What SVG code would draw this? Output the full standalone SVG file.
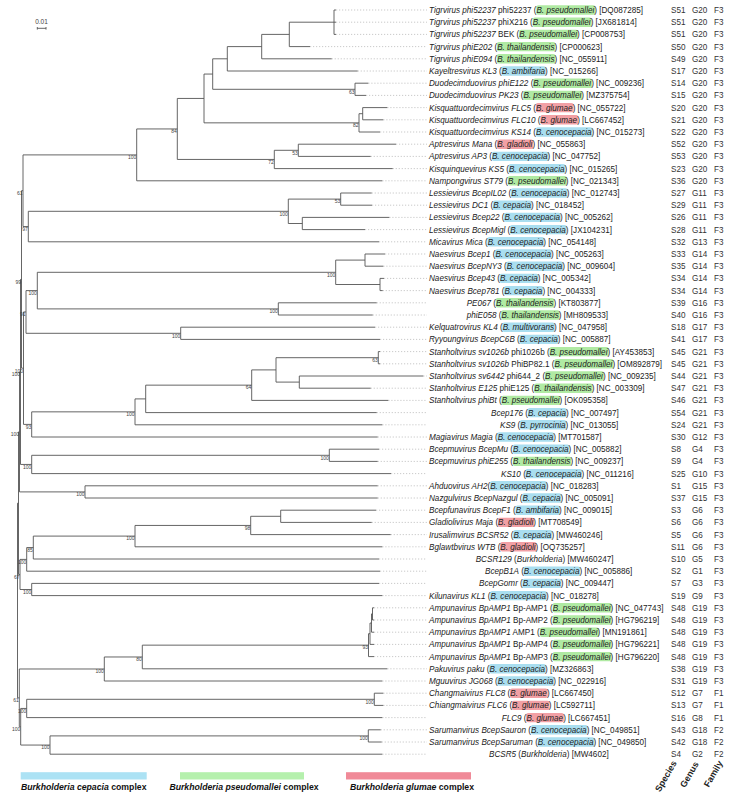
<svg xmlns="http://www.w3.org/2000/svg" width="732" height="799" viewBox="0 0 732 799">
<style>
.t{font-family:"Liberation Sans",Arial,sans-serif;font-size:8.15px;fill:#222}
.i{font-style:italic}
.c{font-family:"Liberation Sans",Arial,sans-serif;font-size:8.15px;fill:#333}
.bs{font-family:"Liberation Sans",Arial,sans-serif;font-size:5px;fill:#444;text-anchor:end}
.br{stroke:#555;stroke-width:0.9;fill:none}
.dt{stroke:#bbb;stroke-width:0.8;stroke-dasharray:1.2 1.8;fill:none}
.hp{fill:#b0eaa3}.ht{fill:#b0eaa3}.hc{fill:#a9def0}.hg{fill:#f2a0a5}
.lg{font-family:"Liberation Sans",Arial,sans-serif;font-size:8.7px;font-weight:bold;fill:#111;text-anchor:middle}
.hd{font-family:"Liberation Sans",Arial,sans-serif;font-size:9px;font-weight:bold;fill:#222;text-anchor:end}
</style>
<rect width="732" height="799" fill="#fff"/>
<g id="scale">
<text x="41.5" y="24" style="font-family:'Liberation Sans',Arial,sans-serif;font-size:6.5px;fill:#444;text-anchor:middle">0.01</text>
<path class="br" d="M37.3,28.3H46M37.3,27V29.6M46,27V29.6" stroke-width="0.7"/>
</g>
<g id="leaders">
<path class="dt" d="M336,10H427M336,22.2H427M336,34.4H427M310,46.6H427M331.7,58.8H427M357.7,71H427M368.3,83.2H427M366,95.4H427M387.3,107.6H427M383.3,119.8H427M380,132H427M396,144.2H427M370.7,156.4H427M392.7,168.6H427M382.3,180.8H427M371.7,193H427M372,205.2H427M389.3,217.4H427M365,229.6H427M379,241.8H427M385,254H427M383.3,266.2H427M384,278.4H427M382.7,290.6H427M376.7,302.8H427M372.7,315H427M375,327.2H427M380,339.4H427M380,351.6H427M380,363.8H427M423.3,376H427M370.7,388.2H427M388.3,400.4H427M376.7,412.6H427M382.3,424.8H427M377.7,437H427M379,449.2H427M377.7,461.4H427M391,473.6H427M377.7,485.8H427M377.7,498H427M376,510.2H427M371.7,522.4H427M390.7,534.6H427M382.3,546.8H427M379,559H427M380,571.2H427M379,583.4H427M382.3,595.6H427M374,607.8H427M374,620H427M374,632.2H427M374,644.4H427M374,656.6H427M387.3,668.8H427M382.3,681H427M383.3,693.2H427M383.3,705.4H427M382.3,717.6H427M380.7,729.8H427M381.7,742H427M382.3,754.2H427"/>
</g>
<g id="connectors">
<path class="br" d="M334,10V34.4M334,10H336M334,22.2H336M334,34.4H336
M289.3,22.2V46.6M289.3,22.2H334M289.3,46.6H310
M261.7,34.4V58.8M261.7,34.4H289.3M261.7,58.8H331.7
M227.3,46.6V71M227.3,46.6H261.7M227.3,71H357.7
M355,83.2V95.4M355,83.2H368.3M355,95.4H366
M212.7,58.8V89.3M212.7,58.8H227.3M212.7,89.3H355
M362.7,107.6V119.8M362.7,107.6H387.3M362.7,119.8H383.3
M359,113.7V132M359,113.7H362.7M359,132H380
M204,74.05V122.85M204,74.05H212.7M204,122.85H359
M298.3,144.2V156.4M298.3,144.2H396M298.3,156.4H370.7
M274.3,150.3V168.6M274.3,150.3H298.3M274.3,168.6H392.7
M177.3,98.45V159.45M177.3,98.45H204M177.3,159.45H274.3
M136.7,128.95V180.8M136.7,128.95H177.3M136.7,180.8H382.3
M340.7,193V205.2M340.7,193H371.7M340.7,205.2H372
M302.3,217.4V229.6M302.3,217.4H389.3M302.3,229.6H365
M288.3,199.1V223.5M288.3,199.1H340.7M288.3,223.5H302.3
M28.3,211.3V241.8M28.3,211.3H288.3M28.3,241.8H379
M23,154.9V226.55M23,154.9H136.7M23,226.55H28.3
M365,254V266.2M365,254H385M365,266.2H383.3
M380,278.4V290.6M380,278.4H384M380,290.6H382.7
M335.7,260.1V284.5M335.7,260.1H365M335.7,284.5H380
M278.3,302.8V315M278.3,302.8H376.7M278.3,315H372.7
M37.3,272.3V308.9M37.3,272.3H335.7M37.3,308.9H278.3
M180.7,327.2V339.4M180.7,327.2H375M180.7,339.4H380
M26,290.6V333.3M26,290.6H37.3M26,333.3H180.7
M378.3,351.6V363.8M378.3,351.6H380M378.3,363.8H380
M299.3,376V388.2M299.3,376H423.3M299.3,388.2H370.7
M276,357.7V382.1M276,357.7H378.3M276,382.1H299.3
M251.7,369.9V400.4M251.7,369.9H276M251.7,400.4H388.3
M145.7,385.15V412.6M145.7,385.15H251.7M145.7,412.6H376.7
M135,398.9V424.8M135,398.9H145.7M135,424.8H382.3
M31.7,411.85V437M31.7,411.85H135M31.7,437H377.7
M23.5,311.95V424.4M23.5,311.95H26M23.5,424.4H31.7
M21.5,190.7V368.2M21.5,190.7H23M21.5,368.2H23.5
M329.3,449.2V461.4M329.3,449.2H379M329.3,461.4H377.7
M31.7,455.3V473.6M31.7,455.3H329.3M31.7,473.6H391
M20.5,279.45V464.45M20.5,279.45H21.5M20.5,464.45H31.7
M85,485.8V498M85,485.8H377.7M85,498H377.7
M19.5,371.95V491.9M19.5,371.95H20.5M19.5,491.9H85
M280.7,510.2V522.4M280.7,510.2H376M280.7,522.4H371.7
M250.7,516.3V534.6M250.7,516.3H280.7M250.7,534.6H390.7
M135,525.45V546.8M135,525.45H250.7M135,546.8H382.3
M33.3,536.1V559M33.3,536.1H135M33.3,559H379
M26.7,547.55V571.2M26.7,547.55H33.3M26.7,571.2H380
M31.7,583.4V595.6M31.7,583.4H379M31.7,595.6H382.3
M20,559.4V589.5M20,559.4H26.7M20,589.5H31.7
M18.5,431.9V574.45M18.5,431.9H19.5M18.5,574.45H20
M372.5,607.8V620M372.5,607.8H374M372.5,620H374
M371.5,613.9V632.2M371.5,613.9H372.5M371.5,632.2H374
M370,623.05V644.4M370,623.05H371.5M370,644.4H374
M368.5,633.7V656.6M368.5,633.7H370M368.5,656.6H374
M142.3,645.15V668.8M142.3,645.15H368.5M142.3,668.8H387.3
M104.3,656.98V681M104.3,656.98H142.3M104.3,681H382.3
M374.3,693.2V705.4M374.3,693.2H383.3M374.3,705.4H383.3
M26.7,699.3V717.6M26.7,699.3H374.3M26.7,717.6H382.3
M368.3,729.8V742M368.3,729.8H380.7M368.3,742H381.7
M50,735.9V754.2M50,735.9H368.3M50,754.2H382.3
M20.7,708.45V745.05M20.7,708.45H26.7M20.7,745.05H50
M19.3,668.99V726.75M19.3,668.99H104.3M19.3,726.75H20.7
M17.5,503.2V697.87M17.5,503.2H18.5M17.5,697.87H19.3"/>
</g>
<g id="bootstrap">
<text class="bs" x="354.6" y="93.6">63</text>
<text class="bs" x="358.6" y="127.15">82</text>
<text class="bs" x="297.9" y="154.6">53</text>
<text class="bs" x="273.9" y="163.75">72</text>
<text class="bs" x="176.9" y="133.25">84</text>
<text class="bs" x="136.3" y="159.2">100</text>
<text class="bs" x="340.3" y="203.4">53</text>
<text class="bs" x="287.9" y="215.6">100</text>
<text class="bs" x="27.9" y="230.85">97</text>
<text class="bs" x="22.6" y="195">61</text>
<text class="bs" x="335.3" y="276.6">100</text>
<text class="bs" x="277.9" y="313.2">100</text>
<text class="bs" x="36.9" y="294.9">100</text>
<text class="bs" x="180.3" y="337.6">100</text>
<text class="bs" x="25.6" y="316.25">91</text>
<text class="bs" x="377.9" y="362">63</text>
<text class="bs" x="251.3" y="389.45">64</text>
<text class="bs" x="134.6" y="416.15">100</text>
<text class="bs" x="31.3" y="428.7">93</text>
<text class="bs" x="23.1" y="372.5">100</text>
<text class="bs" x="21.1" y="283.75">99</text>
<text class="bs" x="20.1" y="375.5">100</text>
<text class="bs" x="328.9" y="459.6">100</text>
<text class="bs" x="31.3" y="468.75">100</text>
<text class="bs" x="84.6" y="496.2">100</text>
<text class="bs" x="19.1" y="436.2">100</text>
<text class="bs" x="250.3" y="529.75">98</text>
<text class="bs" x="134.6" y="540.4">100</text>
<text class="bs" x="32.9" y="551.85">85</text>
<text class="bs" x="26.3" y="563.7">100</text>
<text class="bs" x="31.3" y="593.8">100</text>
<text class="bs" x="19.6" y="578.75">67</text>
<text class="bs" x="368.1" y="649.45">93</text>
<text class="bs" x="141.9" y="661.3">80</text>
<text class="bs" x="103.9" y="673.3">100</text>
<text class="bs" x="373.9" y="703.6">100</text>
<text class="bs" x="26.3" y="712.75">100</text>
<text class="bs" x="367.9" y="740.2">100</text>
<text class="bs" x="49.6" y="749.35">100</text>
<text class="bs" x="20.3" y="731.05">100</text>
<text class="bs" x="18.9" y="702.2">61</text>
</g>
<g id="t1"><rect class="hp" x="536.3" y="5.3" width="59" height="9.4" rx="2"/><text class="t" x="429" y="13"><tspan class="i">Tigrvirus phi52237</tspan> phi52237 (<tspan class="i">B. pseudomallei</tspan>) [DQ087285]</text><text class="c" y="13"><tspan x="671">S51</tspan><tspan x="692">G20</tspan><tspan x="714">F3</tspan></text></g>
<g id="t2"><rect class="hp" x="532.7" y="17.5" width="59" height="9.4" rx="2"/><text class="t" x="429" y="25.2"><tspan class="i">Tigrvirus phi52237</tspan> phiX216 (<tspan class="i">B. pseudomallei</tspan>) [JX681814]</text><text class="c" y="25.2"><tspan x="671">S51</tspan><tspan x="692">G20</tspan><tspan x="714">F3</tspan></text></g>
<g id="t3"><rect class="hp" x="519.1" y="29.7" width="59" height="9.4" rx="2"/><text class="t" x="429" y="37.4"><tspan class="i">Tigrvirus phi52237</tspan> BEK (<tspan class="i">B. pseudomallei</tspan>) [CP008753]</text><text class="c" y="37.4"><tspan x="671">S51</tspan><tspan x="692">G20</tspan><tspan x="714">F3</tspan></text></g>
<g id="t4"><rect class="ht" x="496.9" y="41.9" width="58.5" height="9.4" rx="2"/><text class="t" x="429" y="49.6"><tspan class="i">Tigrvirus phiE202</tspan> (<tspan class="i">B. thailandensis</tspan>) [CP000623]</text><text class="c" y="49.6"><tspan x="671">S50</tspan><tspan x="692">G20</tspan><tspan x="714">F3</tspan></text></g>
<g id="t5"><rect class="ht" x="496.9" y="54.1" width="58.5" height="9.4" rx="2"/><text class="t" x="429" y="61.8"><tspan class="i">Tigrvirus phiE094</tspan> (<tspan class="i">B. thailandensis</tspan>) [NC_055911]</text><text class="c" y="61.8"><tspan x="671">S49</tspan><tspan x="692">G20</tspan><tspan x="714">F3</tspan></text></g>
<g id="t6"><rect class="hc" x="501.4" y="66.3" width="44.5" height="9.4" rx="2"/><text class="t" x="429" y="74"><tspan class="i">Kayeltresvirus KL3</tspan> (<tspan class="i">B. ambifaria</tspan>) [NC_015266]</text><text class="c" y="74"><tspan x="671">S17</tspan><tspan x="692">G20</tspan><tspan x="714">F3</tspan></text></g>
<g id="t7"><rect class="hp" x="533.1" y="78.5" width="59" height="9.4" rx="2"/><text class="t" x="429" y="86.2"><tspan class="i">Duodecimduovirus phiE122</tspan> (<tspan class="i">B. pseudomallei</tspan>) [NC_009236]</text><text class="c" y="86.2"><tspan x="671">S14</tspan><tspan x="692">G20</tspan><tspan x="714">F3</tspan></text></g>
<g id="t8"><rect class="hp" x="523.2" y="90.7" width="59" height="9.4" rx="2"/><text class="t" x="429" y="98.4"><tspan class="i">Duodecimduovirus PK23</tspan> (<tspan class="i">B. pseudomallei</tspan>) [MZ375754]</text><text class="c" y="98.4"><tspan x="671">S15</tspan><tspan x="692">G20</tspan><tspan x="714">F3</tspan></text></g>
<g id="t9"><rect class="hg" x="535.8" y="102.9" width="37.7" height="9.4" rx="2"/><text class="t" x="429" y="110.6"><tspan class="i">Kisquattuordecimvirus FLC5</tspan> (<tspan class="i">B. glumae</tspan>) [NC_055722]</text><text class="c" y="110.6"><tspan x="671">S20</tspan><tspan x="692">G20</tspan><tspan x="714">F3</tspan></text></g>
<g id="t10"><rect class="hg" x="540.4" y="115.1" width="37.7" height="9.4" rx="2"/><text class="t" x="429" y="122.8"><tspan class="i">Kisquattuordecimvirus FLC10</tspan> (<tspan class="i">B. glumae</tspan>) [LC667452]</text><text class="c" y="122.8"><tspan x="671">S21</tspan><tspan x="692">G20</tspan><tspan x="714">F3</tspan></text></g>
<g id="t11"><rect class="hc" x="535.8" y="127.3" width="56.7" height="9.4" rx="2"/><text class="t" x="429" y="135"><tspan class="i">Kisquattuordecimvirus KS14</tspan> (<tspan class="i">B. cenocepacia</tspan>) [NC_015273]</text><text class="c" y="135"><tspan x="671">S22</tspan><tspan x="692">G20</tspan><tspan x="714">F3</tspan></text></g>
<g id="t12"><rect class="hg" x="496.9" y="139.5" width="36.3" height="9.4" rx="2"/><text class="t" x="429" y="147.2"><tspan class="i">Aptresvirus Mana</tspan> (<tspan class="i">B. gladioli</tspan>) [NC_055863]</text><text class="c" y="147.2"><tspan x="671">S52</tspan><tspan x="692">G20</tspan><tspan x="714">F3</tspan></text></g>
<g id="t13"><rect class="hc" x="491.9" y="151.7" width="56.7" height="9.4" rx="2"/><text class="t" x="429" y="159.4"><tspan class="i">Aptresvirus AP3</tspan> (<tspan class="i">B. cenocepacia</tspan>) [NC_047752]</text><text class="c" y="159.4"><tspan x="671">S53</tspan><tspan x="692">G20</tspan><tspan x="714">F3</tspan></text></g>
<g id="t14"><rect class="hc" x="508.7" y="163.9" width="56.7" height="9.4" rx="2"/><text class="t" x="429" y="171.6"><tspan class="i">Kisquinquevirus KS5</tspan> (<tspan class="i">B. cenocepacia</tspan>) [NC_015265]</text><text class="c" y="171.6"><tspan x="671">S23</tspan><tspan x="692">G20</tspan><tspan x="714">F3</tspan></text></g>
<g id="t15"><rect class="hp" x="507.8" y="176.1" width="59" height="9.4" rx="2"/><text class="t" x="429" y="183.8"><tspan class="i">Nampongvirus ST79</tspan> (<tspan class="i">B. pseudomallei</tspan>) [NC_021343]</text><text class="c" y="183.8"><tspan x="671">S36</tspan><tspan x="692">G20</tspan><tspan x="714">F3</tspan></text></g>
<g id="t16"><rect class="hc" x="510.9" y="188.3" width="56.7" height="9.4" rx="2"/><text class="t" x="429" y="196"><tspan class="i">Lessievirus BcepIL02</tspan> (<tspan class="i">B. cenocepacia</tspan>) [NC_012743]</text><text class="c" y="196"><tspan x="671">S27</tspan><tspan x="692">G11</tspan><tspan x="714">F3</tspan></text></g>
<g id="t17"><rect class="hc" x="492.8" y="200.5" width="39" height="9.4" rx="2"/><text class="t" x="429" y="208.2"><tspan class="i">Lessievirus DC1</tspan> (<tspan class="i">B. cepacia</tspan>) [NC_018452]</text><text class="c" y="208.2"><tspan x="671">S29</tspan><tspan x="692">G11</tspan><tspan x="714">F3</tspan></text></g>
<g id="t18"><rect class="hc" x="504.1" y="212.7" width="56.7" height="9.4" rx="2"/><text class="t" x="429" y="220.4"><tspan class="i">Lessievirus Bcep22</tspan> (<tspan class="i">B. cenocepacia</tspan>) [NC_005262]</text><text class="c" y="220.4"><tspan x="671">S26</tspan><tspan x="692">G11</tspan><tspan x="714">F3</tspan></text></g>
<g id="t19"><rect class="hc" x="510" y="224.9" width="56.7" height="9.4" rx="2"/><text class="t" x="429" y="232.6"><tspan class="i">Lessievirus BcepMigl</tspan> (<tspan class="i">B. cenocepacia</tspan>) [JX104231]</text><text class="c" y="232.6"><tspan x="671">S28</tspan><tspan x="692">G11</tspan><tspan x="714">F3</tspan></text></g>
<g id="t20"><rect class="hc" x="487.4" y="237.1" width="56.7" height="9.4" rx="2"/><text class="t" x="429" y="244.8"><tspan class="i">Micavirus Mica</tspan> (<tspan class="i">B. cenocepacia</tspan>) [NC_054148]</text><text class="c" y="244.8"><tspan x="671">S32</tspan><tspan x="692">G13</tspan><tspan x="714">F3</tspan></text></g>
<g id="t21"><rect class="hc" x="495.1" y="249.3" width="56.7" height="9.4" rx="2"/><text class="t" x="429" y="257"><tspan class="i">Naesvirus Bcep1</tspan> (<tspan class="i">B. cenocepacia</tspan>) [NC_005263]</text><text class="c" y="257"><tspan x="671">S33</tspan><tspan x="692">G14</tspan><tspan x="714">F3</tspan></text></g>
<g id="t22"><rect class="hc" x="506.4" y="261.5" width="56.7" height="9.4" rx="2"/><text class="t" x="429" y="269.2"><tspan class="i">Naesvirus BcepNY3</tspan> (<tspan class="i">B. cenocepacia</tspan>) [NC_009604]</text><text class="c" y="269.2"><tspan x="671">S35</tspan><tspan x="692">G14</tspan><tspan x="714">F3</tspan></text></g>
<g id="t23"><rect class="hc" x="499.6" y="273.7" width="39" height="9.4" rx="2"/><text class="t" x="429" y="281.4"><tspan class="i">Naesvirus Bcep43</tspan> (<tspan class="i">B. cepacia</tspan>) [NC_005342]</text><text class="c" y="281.4"><tspan x="671">S34</tspan><tspan x="692">G14</tspan><tspan x="714">F3</tspan></text></g>
<g id="t24"><rect class="hc" x="504.1" y="285.9" width="39" height="9.4" rx="2"/><text class="t" x="429" y="293.6"><tspan class="i">Naesvirus Bcep781</tspan> (<tspan class="i">B. cepacia</tspan>) [NC_004333]</text><text class="c" y="293.6"><tspan x="671">S34</tspan><tspan x="692">G14</tspan><tspan x="714">F3</tspan></text></g>
<g id="t25"><rect class="ht" x="495.7" y="298.1" width="58.5" height="9.4" rx="2"/><text class="t" x="466.7" y="305.8"><tspan class="i">PE067</tspan> (<tspan class="i">B. thailandensis</tspan>) [KT803877]</text><text class="c" y="305.8"><tspan x="671">S39</tspan><tspan x="692">G16</tspan><tspan x="714">F3</tspan></text></g>
<g id="t26"><rect class="ht" x="501.1" y="310.3" width="58.5" height="9.4" rx="2"/><text class="t" x="466.7" y="318"><tspan class="i">phiE058</tspan> (<tspan class="i">B. thailandensis</tspan>) [MH809533]</text><text class="c" y="318"><tspan x="671">S40</tspan><tspan x="692">G16</tspan><tspan x="714">F3</tspan></text></g>
<g id="t27"><rect class="hc" x="502.3" y="322.5" width="52.6" height="9.4" rx="2"/><text class="t" x="429" y="330.2"><tspan class="i">Kelquatrovirus KL4</tspan> (<tspan class="i">B. multivorans</tspan>) [NC_047958]</text><text class="c" y="330.2"><tspan x="671">S18</tspan><tspan x="692">G17</tspan><tspan x="714">F3</tspan></text></g>
<g id="t28"><rect class="hc" x="519.5" y="334.7" width="39" height="9.4" rx="2"/><text class="t" x="429" y="342.4"><tspan class="i">Ryyoungvirus BcepC6B</tspan> (<tspan class="i">B. cepacia</tspan>) [NC_005887]</text><text class="c" y="342.4"><tspan x="671">S41</tspan><tspan x="692">G17</tspan><tspan x="714">F3</tspan></text></g>
<g id="t29"><rect class="hp" x="549.5" y="346.9" width="59" height="9.4" rx="2"/><text class="t" x="429" y="354.6"><tspan class="i">Stanholtvirus sv1026b</tspan> phi1026b (<tspan class="i">B. pseudomallei</tspan>) [AY453853]</text><text class="c" y="354.6"><tspan x="671">S45</tspan><tspan x="692">G21</tspan><tspan x="714">F3</tspan></text></g>
<g id="t30"><rect class="hp" x="554.4" y="359.1" width="59" height="9.4" rx="2"/><text class="t" x="429" y="366.8"><tspan class="i">Stanholtvirus sv1026b</tspan> PhiBP82.1 (<tspan class="i">B. pseudomallei</tspan>) [OM892879]</text><text class="c" y="366.8"><tspan x="671">S45</tspan><tspan x="692">G21</tspan><tspan x="714">F3</tspan></text></g>
<g id="t31"><rect class="hp" x="544.9" y="371.3" width="59" height="9.4" rx="2"/><text class="t" x="429" y="379"><tspan class="i">Stanholtvirus sv6442</tspan> phi644_2 (<tspan class="i">B. pseudomallei</tspan>) [NC_009235]</text><text class="c" y="379"><tspan x="671">S44</tspan><tspan x="692">G21</tspan><tspan x="714">F3</tspan></text></g>
<g id="t32"><rect class="ht" x="534.1" y="383.5" width="58.5" height="9.4" rx="2"/><text class="t" x="429" y="391.2"><tspan class="i">Stanholtvirus E125</tspan> phiE125 (<tspan class="i">B. thailandensis</tspan>) [NC_003309]</text><text class="c" y="391.2"><tspan x="671">S47</tspan><tspan x="692">G21</tspan><tspan x="714">F3</tspan></text></g>
<g id="t33"><rect class="hp" x="501.4" y="395.7" width="59" height="9.4" rx="2"/><text class="t" x="429" y="403.4"><tspan class="i">Stanholtvirus phiBt</tspan> (<tspan class="i">B. pseudomallei</tspan>) [OK095358]</text><text class="c" y="403.4"><tspan x="671">S46</tspan><tspan x="692">G21</tspan><tspan x="714">F3</tspan></text></g>
<g id="t34"><rect class="hc" x="527.7" y="407.9" width="39" height="9.4" rx="2"/><text class="t" x="491" y="415.6"><tspan class="i">Bcep176</tspan> (<tspan class="i">B. cepacia</tspan>) [NC_007497]</text><text class="c" y="415.6"><tspan x="671">S54</tspan><tspan x="692">G21</tspan><tspan x="714">F3</tspan></text></g>
<g id="t35"><rect class="hc" x="519.9" y="420.1" width="46.3" height="9.4" rx="2"/><text class="t" x="500" y="427.8"><tspan class="i">KS9</tspan> (<tspan class="i">B. pyrrocinia</tspan>) [NC_013055]</text><text class="c" y="427.8"><tspan x="671">S24</tspan><tspan x="692">G21</tspan><tspan x="714">F3</tspan></text></g>
<g id="t36"><rect class="hc" x="497.3" y="432.3" width="56.7" height="9.4" rx="2"/><text class="t" x="429" y="440"><tspan class="i">Magiavirus Magia</tspan> (<tspan class="i">B. cenocepacia</tspan>) [MT701587]</text><text class="c" y="440"><tspan x="671">S30</tspan><tspan x="692">G12</tspan><tspan x="714">F3</tspan></text></g>
<g id="t37"><rect class="hc" x="512.7" y="444.5" width="56.7" height="9.4" rx="2"/><text class="t" x="429" y="452.2"><tspan class="i">Bcepmuvirus BcepMu</tspan> (<tspan class="i">B. cenocepacia</tspan>) [NC_005882]</text><text class="c" y="452.2"><tspan x="671">S8</tspan><tspan x="692">G4</tspan><tspan x="714">F3</tspan></text></g>
<g id="t38"><rect class="ht" x="512.8" y="456.7" width="58.5" height="9.4" rx="2"/><text class="t" x="429" y="464.4"><tspan class="i">Bcepmuvirus phiE255</tspan> (<tspan class="i">B. thailandensis</tspan>) [NC_009237]</text><text class="c" y="464.4"><tspan x="671">S9</tspan><tspan x="692">G4</tspan><tspan x="714">F3</tspan></text></g>
<g id="t39"><rect class="hc" x="525.4" y="468.9" width="56.7" height="9.4" rx="2"/><text class="t" x="501" y="476.6"><tspan class="i">KS10</tspan> (<tspan class="i">B. cenocepacia</tspan>) [NC_011216]</text><text class="c" y="476.6"><tspan x="671">S25</tspan><tspan x="692">G10</tspan><tspan x="714">F3</tspan></text></g>
<g id="t40"><rect class="hc" x="490.1" y="481.1" width="56.7" height="9.4" rx="2"/><text class="t" x="429" y="488.8"><tspan class="i">Ahduovirus AH2</tspan>(<tspan class="i">B. cenocepacia</tspan>) [NC_018283]</text><text class="c" y="488.8"><tspan x="671">S1</tspan><tspan x="692">G15</tspan><tspan x="714">F3</tspan></text></g>
<g id="t41"><rect class="hc" x="522.3" y="493.3" width="39" height="9.4" rx="2"/><text class="t" x="429" y="501"><tspan class="i">Nazgulvirus BcepNazgul</tspan> (<tspan class="i">B. cepacia</tspan>) [NC_005091]</text><text class="c" y="501"><tspan x="671">S37</tspan><tspan x="692">G15</tspan><tspan x="714">F3</tspan></text></g>
<g id="t42"><rect class="hc" x="515.5" y="505.5" width="44.5" height="9.4" rx="2"/><text class="t" x="429" y="513.2"><tspan class="i">Bcepfunavirus BcepF1</tspan> (<tspan class="i">B. ambifaria</tspan>) [NC_009015]</text><text class="c" y="513.2"><tspan x="671">S3</tspan><tspan x="692">G6</tspan><tspan x="714">F3</tspan></text></g>
<g id="t43"><rect class="hg" x="497.8" y="517.7" width="36.3" height="9.4" rx="2"/><text class="t" x="429" y="525.4"><tspan class="i">Gladiolivirus Maja</tspan> (<tspan class="i">B. gladioli</tspan>) [MT708549]</text><text class="c" y="525.4"><tspan x="671">S6</tspan><tspan x="692">G6</tspan><tspan x="714">F3</tspan></text></g>
<g id="t44"><rect class="hc" x="513.2" y="529.9" width="39" height="9.4" rx="2"/><text class="t" x="429" y="537.6"><tspan class="i">Irusalimvirus BCSR52</tspan> (<tspan class="i">B. cepacia</tspan>) [MW460246]</text><text class="c" y="537.6"><tspan x="671">S5</tspan><tspan x="692">G6</tspan><tspan x="714">F3</tspan></text></g>
<g id="t45"><rect class="hg" x="500.1" y="542.1" width="36.3" height="9.4" rx="2"/><text class="t" x="429" y="549.8"><tspan class="i">Bglawtbvirus WTB</tspan> (<tspan class="i">B. gladioli</tspan>) [OQ735257]</text><text class="c" y="549.8"><tspan x="671">S11</tspan><tspan x="692">G6</tspan><tspan x="714">F3</tspan></text></g>
<g id="t46"><text class="t" x="475.7" y="562"><tspan class="i">BCSR129</tspan> (<tspan class="i">Burkholderia</tspan>) [MW460247]</text><text class="c" y="562"><tspan x="671">S10</tspan><tspan x="692">G5</tspan><tspan x="714">F3</tspan></text></g>
<g id="t47"><rect class="hc" x="523.5" y="566.5" width="56.7" height="9.4" rx="2"/><text class="t" x="485" y="574.2"><tspan class="i">BcepB1A</tspan> (<tspan class="i">B. cenocepacia</tspan>) [NC_005886]</text><text class="c" y="574.2"><tspan x="671">S2</tspan><tspan x="692">G1</tspan><tspan x="714">F3</tspan></text></g>
<g id="t48"><rect class="hc" x="522.4" y="578.7" width="39" height="9.4" rx="2"/><text class="t" x="479" y="586.4"><tspan class="i">BcepGomr</tspan> (<tspan class="i">B. cepacia</tspan>) [NC_009447]</text><text class="c" y="586.4"><tspan x="671">S7</tspan><tspan x="692">G3</tspan><tspan x="714">F3</tspan></text></g>
<g id="t49"><rect class="hc" x="490.1" y="590.9" width="56.7" height="9.4" rx="2"/><text class="t" x="429" y="598.6"><tspan class="i">Kilunavirus KL1</tspan> (<tspan class="i">B. cenocepacia</tspan>) [NC_018278]</text><text class="c" y="598.6"><tspan x="671">S19</tspan><tspan x="692">G9</tspan><tspan x="714">F3</tspan></text></g>
<g id="t50"><rect class="hp" x="552.6" y="603.1" width="59" height="9.4" rx="2"/><text class="t" x="429" y="610.8"><tspan class="i">Ampunavirus BpAMP1</tspan> Bp-AMP1 (<tspan class="i">B. pseudomallei</tspan>) [NC_047743]</text><text class="c" y="610.8"><tspan x="671">S48</tspan><tspan x="692">G19</tspan><tspan x="714">F3</tspan></text></g>
<g id="t51"><rect class="hp" x="552.6" y="615.3" width="59" height="9.4" rx="2"/><text class="t" x="429" y="623"><tspan class="i">Ampunavirus BpAMP1</tspan> Bp-AMP2 (<tspan class="i">B. pseudomallei</tspan>) [HG796219]</text><text class="c" y="623"><tspan x="671">S48</tspan><tspan x="692">G19</tspan><tspan x="714">F3</tspan></text></g>
<g id="t52"><rect class="hp" x="539.9" y="627.5" width="59" height="9.4" rx="2"/><text class="t" x="429" y="635.2"><tspan class="i">Ampunavirus BpAMP1</tspan> AMP1 (<tspan class="i">B. pseudomallei</tspan>) [MN191861]</text><text class="c" y="635.2"><tspan x="671">S48</tspan><tspan x="692">G19</tspan><tspan x="714">F3</tspan></text></g>
<g id="t53"><rect class="hp" x="552.6" y="639.7" width="59" height="9.4" rx="2"/><text class="t" x="429" y="647.4"><tspan class="i">Ampunavirus BpAMP1</tspan> Bp-AMP4 (<tspan class="i">B. pseudomallei</tspan>) [HG796221]</text><text class="c" y="647.4"><tspan x="671">S48</tspan><tspan x="692">G19</tspan><tspan x="714">F3</tspan></text></g>
<g id="t54"><rect class="hp" x="552.6" y="651.9" width="59" height="9.4" rx="2"/><text class="t" x="429" y="659.6"><tspan class="i">Ampunavirus BpAMP1</tspan> Bp-AMP3 (<tspan class="i">B. pseudomallei</tspan>) [HG796220]</text><text class="c" y="659.6"><tspan x="671">S48</tspan><tspan x="692">G19</tspan><tspan x="714">F3</tspan></text></g>
<g id="t55"><rect class="hc" x="489.2" y="664.1" width="56.7" height="9.4" rx="2"/><text class="t" x="429" y="671.8"><tspan class="i">Pakuvirus paku</tspan> (<tspan class="i">B. cenocepacia</tspan>) [MZ326863]</text><text class="c" y="671.8"><tspan x="671">S38</tspan><tspan x="692">G19</tspan><tspan x="714">F3</tspan></text></g>
<g id="t56"><rect class="hc" x="497.3" y="676.3" width="56.7" height="9.4" rx="2"/><text class="t" x="429" y="684"><tspan class="i">Mguuvirus JG068</tspan> (<tspan class="i">B. cenocepacia</tspan>) [NC_022916]</text><text class="c" y="684"><tspan x="671">S31</tspan><tspan x="692">G19</tspan><tspan x="714">F3</tspan></text></g>
<g id="t57"><rect class="hg" x="510" y="688.5" width="37.7" height="9.4" rx="2"/><text class="t" x="429" y="696.2"><tspan class="i">Changmaivirus FLC8</tspan> (<tspan class="i">B. glumae</tspan>) [LC667450]</text><text class="c" y="696.2"><tspan x="671">S12</tspan><tspan x="692">G7</tspan><tspan x="714">F1</tspan></text></g>
<g id="t58"><rect class="hg" x="511.8" y="700.7" width="37.7" height="9.4" rx="2"/><text class="t" x="429" y="708.4"><tspan class="i">Chiangmaivirus FLC6</tspan> (<tspan class="i">B. glumae</tspan>) [LC592711]</text><text class="c" y="708.4"><tspan x="671">S13</tspan><tspan x="692">G7</tspan><tspan x="714">F1</tspan></text></g>
<g id="t59"><rect class="hg" x="526.1" y="712.9" width="37.7" height="9.4" rx="2"/><text class="t" x="501.7" y="720.6"><tspan class="i">FLC9</tspan> (<tspan class="i">B. glumae</tspan>) [LC667451]</text><text class="c" y="720.6"><tspan x="671">S16</tspan><tspan x="692">G8</tspan><tspan x="714">F1</tspan></text></g>
<g id="t60"><rect class="hc" x="530.9" y="725.1" width="56.7" height="9.4" rx="2"/><text class="t" x="429" y="732.8"><tspan class="i">Sarumanvirus BcepSauron</tspan> (<tspan class="i">B. cenocepacia</tspan>) [NC_049851]</text><text class="c" y="732.8"><tspan x="671">S43</tspan><tspan x="692">G18</tspan><tspan x="714">F2</tspan></text></g>
<g id="t61"><rect class="hc" x="537.7" y="737.3" width="56.7" height="9.4" rx="2"/><text class="t" x="429" y="745"><tspan class="i">Sarumanvirus BcepSaruman</tspan> (<tspan class="i">B. cenocepacia</tspan>) [NC_049850]</text><text class="c" y="745"><tspan x="671">S42</tspan><tspan x="692">G18</tspan><tspan x="714">F2</tspan></text></g>
<g id="t62"><text class="t" x="489" y="757.2"><tspan class="i">BCSR5</tspan> (<tspan class="i">Burkholderia</tspan>) [MW4602]</text><text class="c" y="757.2"><tspan x="671">S4</tspan><tspan x="692">G2</tspan><tspan x="714">F2</tspan></text></g>
<g id="headers">
<text class="hd" transform="translate(677,763) rotate(-60)">Species</text>
<text class="hd" transform="translate(699,764) rotate(-60)">Genus</text>
<text class="hd" transform="translate(723,763) rotate(-60)">Family</text>
</g>
<g id="legend">
<rect x="20.7" y="772.2" width="126" height="7.3" fill="#ace2f4"/>
<rect x="180" y="772.2" width="124" height="7.3" fill="#b5f0ad"/>
<rect x="346" y="772.2" width="125" height="7.3" fill="#f08a98"/>
<text class="lg" x="83.7" y="790"><tspan font-style="italic">Burkholderia cepacia</tspan> complex</text>
<text class="lg" x="244" y="790"><tspan font-style="italic">Burkholderia pseudomallei</tspan> complex</text>
<text class="lg" x="412" y="790"><tspan font-style="italic">Burkholderia glumae</tspan> complex</text>
</g>
</svg>
